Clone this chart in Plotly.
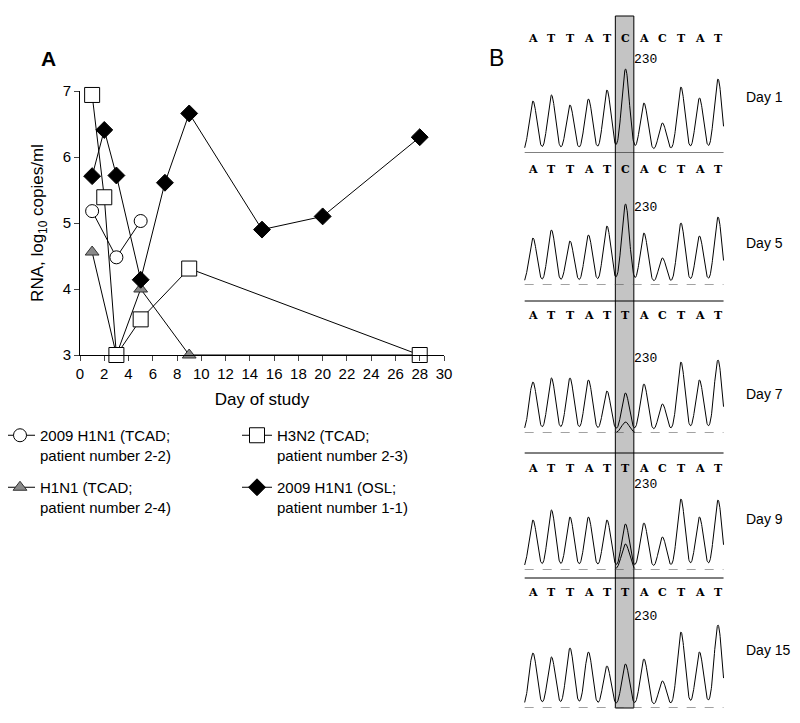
import numpy as np
import plotly.graph_objects as go

# page body has an 8px margin, so the figure is drawn 8px in from the window corner
OFF = 8
W, H = 800 - 2 * OFF, 723 - 2 * OFF

# ---- panel A data ----
days_osl = [1, 2, 3, 5, 7, 9, 15, 20, 28]
rna_osl = [5.71, 6.41, 5.72, 4.14, 5.61, 6.66, 4.9, 5.1, 6.3]
days_h3n2 = [1, 2, 3, 5, 9, 28]
rna_h3n2 = [6.94, 5.39, 3.0, 3.54, 4.31, 3.0]
days_pdm = [1, 3, 5]
rna_pdm = [5.18, 4.48, 5.03]
days_h1n1 = [1, 3, 5, 9, 28]
rna_h1n1 = [4.56, 3.0, 4.0, 3.0, 3.0]

# ---- panel B data ----
day_labels = ["Day 1", "Day 5", "Day 7", "Day 9", "Day 15"]
sequences = ["ATTATCACTAT", "ATTATCACTAT", "ATTATTACTAT", "ATTATTACTAT", "ATTATTACTAT"]
peak_heights = [
    [52, 58, 48, 54, 63, 84, 50, 30, 66, 55, 74],
    [47, 55, 44, 50, 59, 81, 52, 27, 62, 49, 68],
    [51, 55, 55, 53, 42, 40, 49, 29, 71, 53, 73],
    [50, 60, 53, 53, 50, 46, 47, 33, 71, 53, 70],
    [55, 51, 60, 56, 42, 44, 49, 27, 76, 56, 83],
]
minor_peak = [0, 0, 11, 26, 0]  # secondary C signal under position 230

# window pixel -> paper
def px(p):
    return (p - OFF) / W

def py(p):
    return 1 - (p - OFF) / H

baseline_px = [153, 285, 433, 570, 708]
letters_px = [38, 169, 316, 468, 592]
label230_px = [60, 207, 359, 484, 616]
daylabel_px = [97, 243, 394, 519, 650]
separators_px = [301, 453, 578]

fig = go.Figure()

black = "black"
fig.add_trace(go.Scatter(x=days_pdm, y=rna_pdm, mode="lines+markers", name="2009 H1N1 (TCAD;<br>patient number 2-2)",
                         line=dict(color=black, width=1), legend="legend", legendgroup="a",
                         marker=dict(symbol="circle", size=13, color="white", line=dict(color=black, width=1)),
                         cliponaxis=False))
fig.add_trace(go.Scatter(x=days_h1n1, y=rna_h1n1, mode="lines+markers", name="H1N1 (TCAD;<br>patient number 2-4)",
                         line=dict(color=black, width=1), legend="legend", legendgroup="b",
                         marker=dict(symbol="triangle-up", size=12, color="#8a8a8a", line=dict(color="#333", width=1)),
                         cliponaxis=False))
fig.add_trace(go.Scatter(x=days_h3n2, y=rna_h3n2, mode="lines+markers", name="H3N2 (TCAD;<br>patient number 2-3)",
                         line=dict(color=black, width=1), legend="legend2", legendgroup="c",
                         marker=dict(symbol="square", size=15, color="white", line=dict(color=black, width=1)),
                         cliponaxis=False))
fig.add_trace(go.Scatter(x=days_osl, y=rna_osl, mode="lines+markers", name="2009 H1N1 (OSL;<br>patient number 1-1)",
                         line=dict(color=black, width=1), legend="legend2", legendgroup="d",
                         marker=dict(symbol="diamond", size=13, color=black, line=dict(color=black, width=1)),
                         cliponaxis=False))

# chromatogram traces
xs = np.linspace(-0.45, 10.3, 700)
sig = 0.21
for k in range(5):
    ys = np.zeros_like(xs)
    for i, h in enumerate(peak_heights[k]):
        ys += h * np.exp(-0.5 * ((xs - i) / sig) ** 2)
    ax = f"y{k + 2}"
    fig.add_trace(go.Scatter(x=xs, y=ys, mode="lines", line=dict(color=black, width=1),
                             xaxis="x2", yaxis=ax, showlegend=False, hoverinfo="skip"))
    if minor_peak[k]:
        xm = np.linspace(4.5, 5.5, 120)
        ym = minor_peak[k] * np.exp(-0.5 * ((xm - 5) / sig) ** 2)
        fig.add_trace(go.Scatter(x=xm, y=ym, mode="lines", line=dict(color=black, width=1),
                                 xaxis="x2", yaxis=ax, showlegend=False, hoverinfo="skip"))

font = dict(family="Arial, Liberation Sans, sans-serif", size=14, color=black)
legfont = dict(family="Arial, Liberation Sans, sans-serif", size=15, color=black)
lay = dict(
    width=W, height=H, autosize=False, margin=dict(l=0, r=0, t=0, b=0, autoexpand=False),
    paper_bgcolor="white", plot_bgcolor="white", font=font,
    xaxis=dict(domain=[px(80), px(444)], range=[0, 30], dtick=2, ticks="outside", ticklen=5,
               showline=True, linecolor=black, linewidth=1, showgrid=False, zeroline=False,
               tickfont=dict(size=15), title=dict(text="Day of study", standoff=12), anchor="y"),
    yaxis=dict(domain=[py(355), py(91)], range=[3, 7], dtick=1, ticks="outside", ticklen=5,
               showline=True, linecolor=black, linewidth=1, showgrid=False, zeroline=False,
               tickfont=dict(size=15), title=dict(text="RNA, log<sub>10</sub> copies/ml", standoff=14), anchor="x"),
    xaxis2=dict(domain=[px(533 - 18.5 * 0.6), px(533 + 18.5 * 10.6)], range=[-0.6, 10.6],
                visible=False, anchor="y2"),
    legend=dict(x=px(0), y=py(419), xanchor="left", yanchor="top", valign="top",
                itemwidth=30, tracegroupgap=10, font=legfont, bgcolor="rgba(0,0,0,0)"),
    legend2=dict(x=px(237), y=py(419), xanchor="left", yanchor="top", valign="top",
                 itemwidth=30, tracegroupgap=10, font=legfont, bgcolor="rgba(0,0,0,0)"),
)
for k in range(5):
    b = baseline_px[k]
    lay[f"yaxis{k + 2}"] = dict(domain=[py(b), py(b - 100)], range=[0, 100], visible=False, anchor="x2")
fig.update_layout(**lay)

shapes = []
# highlighted column
shapes.append(dict(type="rect", xref="x2", yref="paper", x0=4.45, x1=5.45, y0=py(708), y1=py(16),
                   fillcolor="#c4c4c4", line=dict(color=black, width=1), layer="below"))
for k in range(5):
    dash = "solid" if k == 0 else "dash"
    shapes.append(dict(type="line", xref="x2", yref=f"y{k + 2}", x0=-0.45, x1=10.3, y0=0, y1=0,
                       line=dict(color=black if k == 0 else "#444", width=1, dash=dash)))
for s in separators_px:
    shapes.append(dict(type="line", xref="x2", yref="paper", x0=-0.45, x1=10.3, y0=py(s), y1=py(s),
                       line=dict(color=black, width=1)))

mid = dict(xanchor="center", yanchor="middle", showarrow=False)
ann = [
    dict(text="<b>A</b>", x=px(48), y=py(58), xref="paper", yref="paper",
         font=dict(family="Arial", size=21, color=black), **mid),
    dict(text="B", x=px(497), y=py(58), xref="paper", yref="paper",
         font=dict(family="Arial", size=23, color=black), **mid),
]
serif = dict(family="DejaVu Serif, serif", size=11, color=black)
for k in range(5):
    for i, ch in enumerate(sequences[k]):
        ann.append(dict(text=f"<b>{ch}</b>", x=i, y=py(letters_px[k]), xref="x2", yref="paper",
                        font=serif, **mid))
    ann.append(dict(text="230", x=6.1, y=py(label230_px[k]), xref="x2", yref="paper",
                    font=dict(family="Liberation Mono, monospace", size=13, color=black), **mid))
    ann.append(dict(text=day_labels[k], x=px(744), y=py(daylabel_px[k]), xref="paper", yref="paper",
                    xanchor="left", yanchor="middle", showarrow=False, font=font))
fig.update_layout(shapes=shapes, annotations=ann)

fig.write_html("out.html")
